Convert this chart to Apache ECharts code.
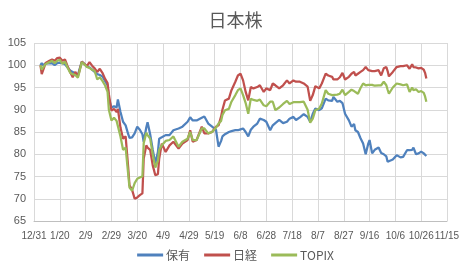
<!DOCTYPE html>
<html><head><meta charset="utf-8">
<script src="https://cdn.jsdelivr.net/npm/echarts@6/dist/echarts.min.js"></script>
<style>html,body{margin:0;padding:0;background:#fff}#c{width:471px;height:272px}</style>
</head><body><div id="c"></div>
<script>
// Dates (2020, M/D)
const dates = ["1/5","1/6","1/7","1/9","1/12","1/14","1/16","1/18","1/20","1/22","1/24","1/26","1/28","1/30","2/1","2/3","2/4","2/6","2/8","2/10","2/12","2/14","2/16","2/18","2/20","2/22","2/24","2/26","2/27","2/29",
"3/2","3/4","3/5","3/7","3/9","3/11","3/13","3/14","3/16","3/18","3/20","3/22","3/24","3/25","3/27","3/28","3/30","4/1","4/3","4/5","4/6","4/8","4/11","4/14","4/17","4/21","4/24","4/28","4/30",
"5/2","5/5","5/9","5/11","5/14","5/17","5/20","5/22","5/24","5/25","5/27","5/30","6/1","6/4","6/6","6/8","6/10","6/12","6/14","6/16","6/18","6/21","6/23","6/26","6/28",
"7/1","7/3","7/5","7/8","7/11","7/14","7/16","7/19","7/21","7/24","7/27","7/30","8/1","8/3","8/5","8/8","8/10","8/13","8/15","8/18","8/19","8/22","8/24","8/26","8/28","8/31",
"9/2","9/4","9/5","9/7","9/9","9/11","9/13","9/15","9/16","9/18","9/20","9/23","9/25","9/27","9/29","9/30","10/1","10/4","10/7","10/10","10/12","10/15","10/17","10/19","10/20","10/22","10/24","10/26","10/28","10/29","10/30"];
const hoyu = [100,100.5,100,100.4,100.4,100.5,100,100.5,100.6,100.5,100.2,99.5,98.8,98.5,98.2,97.8,98.8,100.8,100.3,99.7,99.5,99,98.5,98,97.8,97.5,96.5,95.5,92.5,90.5,
90.8,90.5,92.3,89.5,87.3,86.5,84.5,83.7,83.8,84.7,86.2,85.5,84.5,82.8,86,87.2,84.5,81,78,80.5,83.5,83.8,84.3,84.3,85.4,85.8,86.2,87.3,88.3,
87.6,87.6,88.2,88.5,86.9,86.2,85.5,81.7,83,84,84.5,85,85.2,85.4,85.4,85.6,85.8,85,84,85.5,86.2,86.9,88,87.7,87.3,
85.4,86.5,87,87.7,87,87.3,88,88.4,87.7,88.3,89,88.4,87.3,89.1,90.3,89.9,90.3,92.5,92.1,92,92.9,91.8,92,91.5,89.1,87.6,
86.2,86.8,85.4,85,83.6,82.4,80,82.4,83.2,80.2,81,81.5,80.3,80,79.5,78.3,78.5,78.8,79.8,79.3,79.4,80.9,80.9,81,81.5,80,80.2,80.6,80.2,80,79.6];
const nikkei = [100,98,98.3,100.5,101,101.3,101,101.6,101.7,101,101.3,99.8,98.5,97.3,98.5,97.5,98.5,100.8,100.3,99.8,100.7,99.9,99.3,98.5,99.2,98.3,97,96,93.5,89.8,
90.2,89.5,90.2,86,83.5,84,77,73,72,70,70.3,70.8,71.2,79,82,81.5,81,77.5,75.3,75.5,79,82.4,80.5,82,82.8,81.3,82.4,83.2,85.4,
82.8,83.2,86.2,84.7,84.7,85,86.2,86.5,88.5,90,92.1,92.5,94.4,96.3,97.7,98.1,96.6,94,92.1,95.1,94.8,95.1,95.5,94,94.8,
94.4,95.9,95.5,94.8,95.5,96.6,95.9,96.6,96.3,96.3,95.9,95.2,92,93.3,95.3,94.8,95.9,98.1,97.7,97.4,96.8,96.8,97.3,98.3,96.8,97.4,
98.1,98.5,97.7,98.1,98.5,98.9,99.6,98.9,98.7,98.7,98.7,98.9,97.7,99.3,99.6,98.7,97.5,98.5,99.6,99.8,99.8,100,99.2,100.2,99.6,99.5,99.3,99.4,99,98.3,97];
const topix = [100,99,99.5,100.3,100.7,101,100.5,101,101.2,100.3,100.8,99.5,98.3,98,97.8,97.2,98.3,100.7,100.2,99.6,99.4,99,98.7,96.8,97.3,96.5,95.5,94,90,87.6,
88.2,87.5,87.8,84,81,81.5,75.5,72.5,71.8,73.5,74.5,74.8,75,82.5,84.8,84.3,83.5,80,77,78.5,81,82,83,83.2,84,81.7,82.8,83.5,85,
83.2,83.2,85.8,85.8,84.7,85,86,86.9,87.5,88.8,89.9,90.2,91.8,93.3,94.4,94.8,93.3,91.5,89.1,92.5,92.2,92,92.3,91,90.8,
91.8,91.8,89.9,90.5,91.3,92,91.3,91.7,91.7,91.7,91.8,90,87.1,88,89.9,90.3,91.4,94.4,93.6,93.3,93,93.4,93.6,94.5,93.3,94,
94.5,94.2,94,93.6,94.9,95.9,95.5,95.6,95.7,95.6,95.4,95.5,95.5,96.3,95.5,94.5,93.6,95,95.9,95.7,95.5,95.7,94,95,94.4,94.6,94,94.2,93.8,93,91.8];
const seriesNames = ["保有","日経","TOPIX"];
const xTickDays = 20, xMaxDays = 320;
const yMin = 65, yMax = 105, yStep = 5;

const base = Date.UTC(2019,11,31);
const dayOf = s => { const [m,d] = s.split('/').map(Number); return Math.round((Date.UTC(2020,m-1,d)-base)/86400000); };
const xs = dates.map(dayOf);
const pair = arr => arr.map((v,i)=>[xs[i],v]);
const labelOf = n => { const dt = new Date(base + n*86400000); return (dt.getUTCMonth()+1)+'/'+dt.getUTCDate(); };
const colors = ['#4F81BD','#C0504D','#9BBB59'];
const txt = '#595959';
const chart = echarts.init(document.getElementById('c'));
chart.setOption({
  animation:false,
  title:{text:'日本株',left:'center',top:6,textStyle:{fontFamily:'Noto Sans CJK JP',fontSize:18,fontWeight:'normal',color:txt}},
  grid:{left:34,right:24,top:43,bottom:51},
  legend:{bottom:6,left:'center',itemWidth:26,itemHeight:3,itemGap:14,icon:'rect',
    textStyle:{fontFamily:'Noto Sans CJK JP',fontSize:12,color:txt,padding:[0,0,0,-2]},data:seriesNames},
  xAxis:{type:'value',min:0,max:xMaxDays,interval:xTickDays,
    axisLine:{show:true,lineStyle:{color:'#BFBFBF'}},axisTick:{show:false},
    splitLine:{show:true,lineStyle:{color:'#D9D9D9'}},
    axisLabel:{color:txt,fontSize:10,fontFamily:'Liberation Sans',margin:10,showMaxLabel:true,showMinLabel:true,hideOverlap:false,formatter:v=>labelOf(v)}},
  yAxis:{type:'value',min:yMin,max:yMax,interval:yStep,
    axisLine:{show:false},axisTick:{show:false},
    splitLine:{show:true,lineStyle:{color:'#D9D9D9'}},
    axisLabel:{color:txt,fontSize:11,fontFamily:'Liberation Sans',margin:8}},
  series:[hoyu,nikkei,topix].map((arr,i)=>({
    name:seriesNames[i],type:'line',data:pair(arr),showSymbol:false,symbol:'none',
    lineStyle:{width:2.25,color:colors[i]},itemStyle:{color:colors[i]}}))
});
</script></body></html>
